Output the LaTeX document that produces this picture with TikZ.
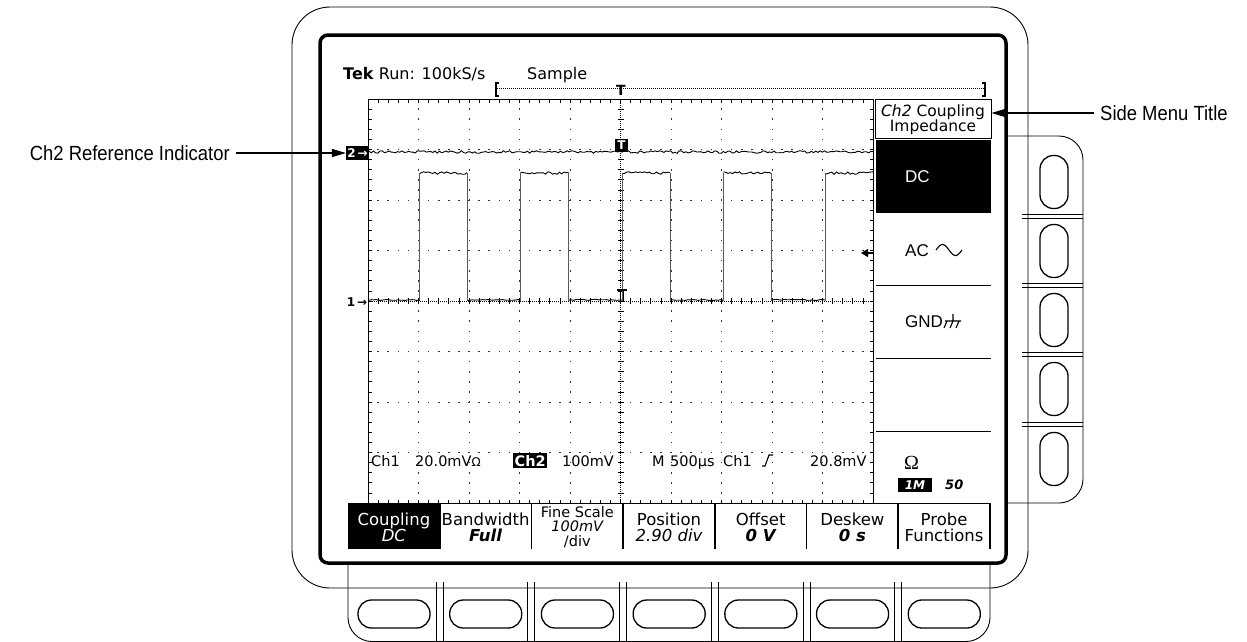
\documentclass[tikz,border=0pt]{standalone}
\usepackage{fontspec}
\setmainfont{DejaVu Sans}
\newfontfamily\labfont[FakeStretch=0.9]{Liberation Sans}
\newfontfamily\sidefont{Liberation Sans}
\newfontfamily\serfont{Liberation Serif}
\usetikzlibrary{arrows.meta}
\newcommand\fsz[1]{\fontsize{#1}{#1}\selectfont}
\begin{document}
\begin{tikzpicture}[x=1pt,y=-1pt,
 bez/.style={line width=0.9pt},
 scrframe/.style={line width=3.5pt, rounded corners=8pt},
 pill/.style={line width=1.3pt, rounded corners=13.5pt},
 trace/.style={line width=0.9pt},
 edgeline/.style={line width=1pt, black!65},
 callout/.style={line width=1.2pt, -{Triangle[length=14pt,width=8pt]}},
 lab/.style={font=\labfont\fsz{20.5}, inner sep=0pt},
 scr/.style={font=\fsz{14.5}, inner sep=0pt, anchor=base west},
 menu/.style={font=\fsz{16.5}, inner sep=0pt, anchor=base},
 fine/.style={font=\fsz{14.5}, inner sep=0pt, anchor=base},
 side/.style={font=\sidefont\fsz{17}, inner sep=0pt, anchor=west},
 tick/.style={line width=0.7pt}
]
\useasboundingbox (0,0) rectangle (1247,641);
\clip (0,0) rectangle (1247,641);

% outer bezel
\draw[bez, rounded corners=38pt] (292,7) rectangle (1028,588);
% side button panel
\draw[bez, rounded corners=24pt] (1006,136) -- (1083,136) -- (1083,503) -- (1006,503);
\foreach \s in {216.5,285.5,354.5,424}{
  \draw[bez] (1022,\s-2) -- (1083,\s-2);
  \draw[bez] (1022,\s+2) -- (1083,\s+2);}
\foreach \c in {182,251,320,389,459}
  \draw[pill] (1040,\c-26.5) rectangle (1068,\c+26.5);
% bottom button panel
\draw[bez, rounded corners=24pt] (348,565) -- (348,641.5) -- (990,641.5) -- (990,565);
\foreach \k in {1,...,6}{
  \pgfmathsetmacro\bb{348+91.714*\k}
  \draw[bez] (\bb-3.5,582) -- (\bb-3.5,641);
  \draw[bez] (\bb+3.5,582) -- (\bb+3.5,641);}
\foreach \k in {0,...,6}{
  \pgfmathsetmacro\cc{394+91.714*\k}
  \draw[pill] (\cc-36,600) rectangle (\cc+36,628);}

% screen frame
\draw[scrframe] (320,35) rectangle (1006,563);

% ---- graticule ----
\draw[line width=0.9pt] (368,99) rectangle (873,503.5);
\foreach \i in {1,...,49}{
  \pgfmathsetmacro\xx{368+10.1*\i}
  \draw[tick] (\xx,99) -- (\xx,102.5) (\xx,503.5) -- (\xx,500);}
\foreach \j in {1,...,39}{
  \pgfmathsetmacro\yy{99+10.1*\j}
  \draw[tick] (368,\yy) -- (371.5,\yy) (873,\yy) -- (869.5,\yy);}
\foreach \i in {1,2,3,4,6,7,8,9}{
  \pgfmathsetmacro\xx{368+50.5*\i}
  \foreach \j in {1,...,39}
    \fill[black!80] (\xx-0.5,99+10.1*\j-0.8) rectangle ++(1,1.6);}
\foreach \j in {1,2,3,5,6,7}{
  \pgfmathsetmacro\yy{99+50.5*\j}
  \foreach \i in {1,...,49}
    \fill[black!80] (368+10.1*\i-0.8,\yy-0.5) rectangle ++(1.6,1);}
\draw[line width=0.8pt, dash pattern=on 0.8pt off 1.2pt] (620.5,99) -- (620.5,503);
\draw[line width=0.8pt, dash pattern=on 0.8pt off 1.2pt] (368,301) -- (873,301);
\foreach \j in {1,...,39}
  \draw[tick] (617.5,99+10.1*\j) -- (623.5,99+10.1*\j);
\foreach \i in {1,...,49}
  \draw[tick] (368+10.1*\i,298) -- (368+10.1*\i,304);

% ---- waveforms ----
\pgfmathsetseed{2718}
\draw[trace] plot[domain=369:873, samples=230] (\x,{152+1.3*rand});
\foreach \a/\b in {369/419, 467/520.5, 568.5/622, 670/723.5, 771.5/825}
  \draw[trace] plot[domain=\a:\b, samples=22] (\x,{300.5-1.1*rnd});
\foreach \a/\b in {419/467, 520.5/568.5, 622/670, 723.5/771.5, 825/873}
  \draw[trace] plot[domain=\a:\b, samples=22] (\x,{173+1.3*rand});
\foreach \e in {419,467,520.5,568.5,622,670,723.5,771.5,825}
  \draw[edgeline] (\e,173) -- (\e,301);

% markers
\node[fill=black, text=white, font=\bfseries\fsz{12}, inner sep=1.2pt, minimum height=14pt] (ref2) at (357.5,153) {2\,→};
\node[font=\bfseries\fsz{12}, inner sep=0pt, anchor=east] (ref1) at (367.5,302) {1\,→};
\node[fill=black, text=white, font=\bfseries\fsz{12}, inner sep=0pt, minimum width=13pt, minimum height=13pt] (tpos) at (621.5,145.5) {T};
\draw[line width=1.3pt] (616.5,290) -- (626.5,290);
\draw[line width=1pt] (620,290) -- (620,302) (623,290) -- (623,302);
\draw[line width=1.2pt, -{Triangle[length=7pt,width=8pt]}] (874,253) -- (861,253);

% ---- top status line ----
\node[scr, font=\fsz{16}] (tek) at (343,79) {\textbf{Tek} Run: 100kS/s};
\node[scr, font=\fsz{16}] (smp) at (527,79) {Sample};
\draw[line width=1.2pt] (499,83) -- (496,83) -- (496,96) -- (499,96);
\draw[line width=1.2pt] (982,83) -- (985,83) -- (985,96) -- (982,96);
\draw[line width=0.8pt, dash pattern=on 0.8pt off 1.2pt] (497,88.5) -- (984,88.5);
\node[font=\bfseries\fsz{14}, inner sep=0pt] (rt) at (621,90) {T};

% ---- readout line ----
\node[scr] at (371,466) {Ch1};
\node[scr] at (415,466) {20.0mV{\fsz{12}Ω}};
\node[scr, fill=black, text=white, inner sep=1.5pt] at (513,466) {\textbf{Ch2}};
\node[scr] at (562,466) {100mV};
\node[scr] at (652,466) {M};
\node[scr] at (670,466) {500µs};
\node[scr] at (723,466) {Ch1};
\draw[line width=1.1pt] (762,466) -- (765,466) -- (769,455) -- (773,455);
\node[scr] at (810,466) {20.8mV};

% ---- bottom menu ----
\draw[line width=0.9pt] (348,503.5) -- (991,503.5);
\fill (348,503.5) rectangle (439.7,549);
\foreach \k in {1,...,7}
  \draw[line width=1.6pt] (348+91.714*\k,504) -- (348+91.714*\k,549);
\node[menu, text=white] at (393.9,525) {Coupling};
\node[menu, text=white] at (393.9,541) {\itshape DC};
\node[menu] at (485.6,525) {Bandwidth};
\node[menu] at (485.6,541) {\bfseries\itshape Full};
\node[fine] at (577.3,517.5) {Fine Scale};
\node[fine] at (577.3,531.5) {\itshape 100mV};
\node[fine] at (577.3,546.5) {/div};
\node[menu] at (669.0,525) {Position};
\node[menu] at (669.0,541) {\itshape 2.90 div};
\node[menu] at (760.7,525) {Offset};
\node[menu] at (760.7,541) {\bfseries\itshape 0 V};
\node[menu] at (852.4,525) {Deskew};
\node[menu] at (852.4,541) {\bfseries\itshape 0 s};
\node[menu] at (944.1,525) {Probe};
\node[menu] at (944.1,541) {Functions};

% ---- side menu ----
\node[draw, line width=0.9pt, minimum width=116pt, minimum height=39pt, inner sep=0pt] (title) at (933,118.5) {};
\node[menu, font=\fsz{15.5}] at (933,116) {\itshape Ch2\upshape{} Coupling};
\node[menu, font=\fsz{15.5}] at (933,131) {Impedance};
\fill (876,140) rectangle (991,213);
\foreach \s in {285,358,431}
  \draw[line width=1pt] (876,\s) -- (991,\s);
\node[side, text=white] (dc) at (905,176.5) {DC};
\node[side] (ac) at (905,251) {AC};
\draw[line width=1.1pt] plot[domain=0:360, samples=40] (936+\x/360*26,{250-5.5*sin(\x)});
\node[side] (gnd) at (905,322) {GND};
\draw[line width=1.1pt] (953,314) -- (953,321) (945,321) -- (961,321)
  (947,321) -- (944,328) (953,321) -- (950,328) (959,321) -- (956,328);
\node[font=\serfont\fsz{20}, inner sep=0pt, anchor=base west] (ohm) at (904,469) {Ω};
\node[fill=black, text=white, font=\bfseries\itshape\fsz{12}, inner sep=0pt, minimum width=34pt, minimum height=14pt] (onem) at (915,485) {1M};
\node[font=\bfseries\itshape\fsz{13}, inner sep=0pt, anchor=west] (fifty) at (945,485) {50};

% ---- callouts ----
\node[lab, anchor=east] (lbl1) at (230,153) {Ch2 Reference Indicator};
\node[lab, anchor=west] (lbl2) at (1100,113) {Side Menu Title};
\draw[callout] ([xshift=6pt]lbl1.east) -- (ref2.west);
\draw[callout] ([xshift=-6pt]lbl2.west) -- (lbl2.west -| title.east);
\end{tikzpicture}
\end{document}
